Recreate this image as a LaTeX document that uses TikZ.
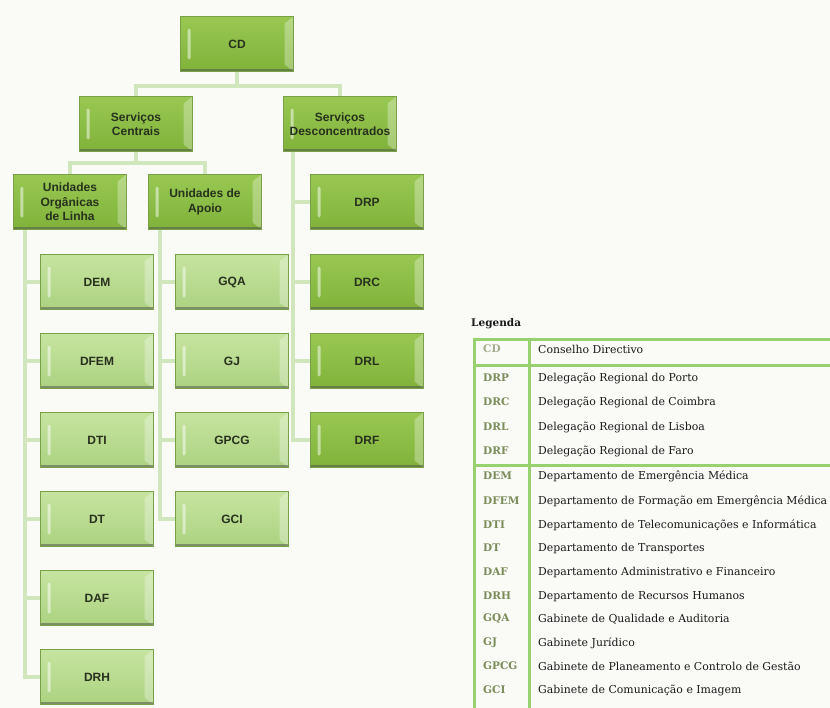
\documentclass[tikz,border=0pt]{standalone}
\usepackage{fontspec}
\newfontfamily\boxfont{Liberation Sans}
\newfontfamily\legfont{DejaVu Serif}
\usetikzlibrary{backgrounds}
\definecolor{bg}{RGB}{250,250,247}
\definecolor{conncol}{RGB}{208,230,188}
\definecolor{darktop}{RGB}{152,200,82}
\definecolor{darkbot}{RGB}{128,178,58}
\definecolor{lighttop}{RGB}{198,228,160}
\definecolor{lightbot}{RGB}{172,210,128}
\definecolor{boxtext}{RGB}{40,48,30}
\definecolor{boxedge}{RGB}{120,160,70}
\definecolor{legline}{RGB}{150,210,110}
\definecolor{abbrcol}{RGB}{122,140,88}
\definecolor{abbrlight}{RGB}{160,172,140}
\definecolor{desccol}{RGB}{25,25,25}
\tikzset{
  orgbox/.style={rectangle, minimum width=113bp, minimum height=55bp, inner sep=0pt,
    align=center, text=boxtext, draw=boxedge, line width=0.4bp,
    font=\boxfont\bfseries\fontsize{12bp}{14.5bp}\selectfont,
    path picture={
      \fill[white,opacity=0.30] ([xshift=-9bp,yshift=-7bp]path picture bounding box.north east)
        -- (path picture bounding box.north east) -- (path picture bounding box.south east)
        -- ([xshift=-9bp,yshift=7bp]path picture bounding box.south east) -- cycle;
      \fill[white,opacity=0.5,rounded corners=1.5bp] ([xshift=7bp,yshift=-12bp]path picture bounding box.north west)
        rectangle ([xshift=10bp,yshift=12bp]path picture bounding box.south west);
      \fill[black!70,opacity=0.5] ([yshift=2.5bp]path picture bounding box.south west)
        rectangle (path picture bounding box.south east);
    }},
  darkbox/.style={orgbox, top color=darktop, bottom color=darkbot},
  lightbox/.style={orgbox, top color=lighttop, bottom color=lightbot},
  conn/.style={draw=conncol, line width=4bp},
  legrule/.style={draw=legline, line width=3bp},
  abbr/.style={anchor=west, inner sep=0pt, text=abbrcol, font=\legfont\bfseries\fontsize{10.5bp}{12bp}\selectfont},
  desc/.style={anchor=west, inner sep=0pt, text=desccol, font=\legfont\fontsize{10.9bp}{13bp}\selectfont},
}
\begin{document}
\begin{tikzpicture}[x=1bp,y=-1bp]
\useasboundingbox (0,0) rectangle (830,708);
% boxes
\node[darkbox] (CD) at (237,44) {CD};
\node[darkbox] (SC) at (136,124) {Serviços\\Centrais};
\node[darkbox] (SD) at (340,124) {Serviços\\Desconcentrados};
\node[darkbox] (UOL) at (70,202) {Unidades\\Orgânicas\\de Linha};
\node[darkbox] (UA) at (205,202) {Unidades de\\Apoio};
\node[darkbox] (DRP) at (367,202) {DRP};
\node[darkbox] (DRC) at (367,282) {DRC};
\node[darkbox] (DRL) at (367,361) {DRL};
\node[darkbox] (DRF) at (367,440) {DRF};
\node[lightbox] (DEM) at (97,282) {DEM};
\node[lightbox] (DFEM) at (97,361) {DFEM};
\node[lightbox] (DTI) at (97,440) {DTI};
\node[lightbox] (DT) at (97,519) {DT};
\node[lightbox] (DAF) at (97,598) {DAF};
\node[lightbox] (DRH) at (97,677) {DRH};
\node[lightbox] (GQA) at (232,282) {GQA};
\node[lightbox] (GJ) at (232,361) {GJ};
\node[lightbox] (GPCG) at (232,440) {GPCG};
\node[lightbox] (GCI) at (232,519) {GCI};
% connectors and background
\begin{pgfonlayer}{background}
\fill[bg] (0,0) rectangle (830,708);
\draw[conn] (CD.south) -- ++(0,14) -| (SC.north);
\draw[conn] (CD.south) -- ++(0,14) -| (SD.north);
\draw[conn] (SC.south) -- ++(0,11) -| (UOL.north);
\draw[conn] (SC.south) -- ++(0,11) -| (UA.north);
\foreach \n in {DEM,DFEM,DTI,DT,DAF,DRH}
  \draw[conn] ([xshift=12bp]UOL.south west) |- (\n.west);
\foreach \n in {GQA,GJ,GPCG,GCI}
  \draw[conn] ([xshift=12bp]UA.south west) |- (\n.west);
\foreach \n in {DRP,DRC,DRL,DRF}
  \draw[conn] ([xshift=10bp]SD.south west) |- (\n.west);
\end{pgfonlayer}
% legend
\node[anchor=west, inner sep=0pt, font=\legfont\bfseries\fontsize{10.5bp}{12bp}\selectfont, text=desccol] (leg) at (471,324) {Legenda};
\draw[legrule] (472.5,339) -- (830,339);
\draw[legrule] (474,365) -- (830,365);
\draw[legrule] (474,465) -- (830,465);
\draw[legrule] (474,337.5) -- (474,708);
\draw[legrule] (529,339) -- (529,708);
\node[abbr, text=abbrlight] (aCD) at (483,349) {CD};
\node[desc] (dCD) at (538,349) {Conselho Directivo};
\foreach \a/\d/\y in {DRP/Delegação Regional do Porto/378,
  DRC/Delegação Regional de Coimbra/402,
  DRL/Delegação Regional de Lisboa/427,
  DRF/Delegação Regional de Faro/451,
  DEM/Departamento de Emergência Médica/476,
  DFEM/Departamento de Formação em Emergência Médica/501,
  DTI/Departamento de Telecomunicações e Informática/525,
  DT/Departamento de Transportes/548,
  DAF/Departamento Administrativo e Financeiro/572,
  DRH/Departamento de Recursos Humanos/596,
  GQA/Gabinete de Qualidade e Auditoria/619,
  GJ/Gabinete Jurídico/643,
  GPCG/Gabinete de Planeamento e Controlo de Gestão/666,
  GCI/Gabinete de Comunicação e Imagem/690}{
  \node[abbr] (a\a) at (483,\y) {\a};
  \node[desc] (d\a) at (538,\y) {\d};
}
\end{tikzpicture}
\end{document}
